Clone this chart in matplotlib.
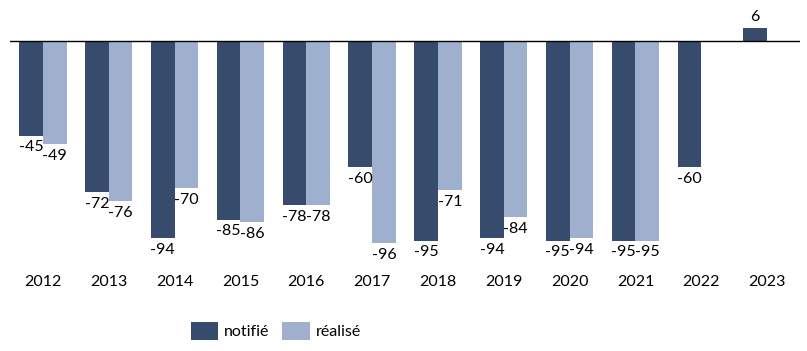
import numpy as np
import matplotlib.pyplot as plt

years = ["2012", "2013", "2014", "2015", "2016", "2017", "2018", "2019",
         "2020", "2021", "2022", "2023"]
notifie = [-45, -72, -94, -85, -78, -60, -95, -94, -95, -95, -60, 6]
realise = [-49, -76, -70, -86, -78, -96, -71, -84, -94, -95, None, None]

dark = "#374b6c"
light = "#9eb0ce"

plt.rcParams["font.family"] = ["Lato", "DejaVu Sans"]

fig = plt.figure(figsize=(8.07, 3.51), dpi=100)
# zero line at ~41 px from top, ~2.1 px per unit
ax = fig.add_axes([10 / 807, 1 - 262 / 351, 790 / 807, 252 / 351])

x = np.arange(len(years))
w = 0.36

def label(xpos, v):
    off = 3 if v >= 0 else -3.5
    ax.annotate(f"{v}", (xpos, v), xytext=(0, off), textcoords="offset points",
                ha="center", va="bottom" if v >= 0 else "top", fontsize=11.5)

bn = ax.bar(x - w / 2, notifie, w, color=dark, label="notifié")
for xi, v in zip(x, notifie):
    label(xi - w / 2, v)

rx = [xi + w / 2 for xi, v in zip(x, realise) if v is not None]
rv = [v for v in realise if v is not None]
br = ax.bar(rx, rv, w, color=light, label="réalisé")
for xi, v in zip(rx, rv):
    label(xi, v)

ax.axhline(0, color="black", lw=1)
ax.set_xlim(-0.5, len(years) - 0.5)
ax.set_ylim(-105.2, 14.8)
ax.set_xticks(x)
ax.set_xticklabels(years, fontsize=11.5)
ax.tick_params(axis="x", length=0, pad=9)
ax.set_yticks([])
for s in ax.spines.values():
    s.set_visible(False)

fig.legend(handles=[bn, br], loc="center", bbox_to_anchor=(276 / 807, 1 - 331 / 351),
           ncol=2, frameon=False, fontsize=11.5, handlelength=1.7, handleheight=1.3,
           handletextpad=0.4, columnspacing=0.8)

fig.savefig("out.png", dpi=100)
